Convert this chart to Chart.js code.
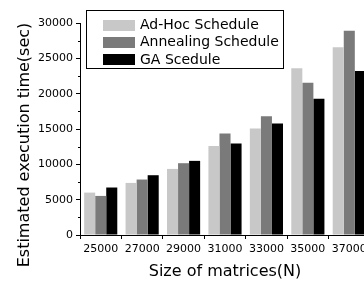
<!DOCTYPE html>
<html><head><meta charset="utf-8">
<script src="https://cdn.jsdelivr.net/npm/chart.js@4.4.1/dist/chart.umd.min.js"></script>
<style>html,body{margin:0;padding:0;background:#fff;overflow:hidden;width:364px;height:281px}canvas{display:block}</style>
</head><body>
<canvas id="c" width="372" height="281" style="width:372px;height:281px"></canvas>
<script>
const categories = ['25000','27000','29000','31000','33000','35000','37000'];
const adHoc = [6000, 7370, 9350, 12610, 15080, 23580, 26560];
const annealing = [5530, 7850, 10160, 14370, 16820, 21540, 28910];
const ga = [6720, 8460, 10490, 12950, 15780, 19270, 23200];
const seriesNames = ['Ad-Hoc Schedule','Annealing Schedule','GA Scedule'];
const colors = ['#c8c8c8','#7a7a7a','#000000'];
const yTitle = 'Estimated execution time(sec)';
const xTitle = 'Size of matrices(N)';

const FONT = "'DejaVu Sans', sans-serif";

const legendBox = {
  id: 'legendBox',
  afterDraw(chart) {
    const ctx = chart.ctx;
    ctx.save();
    ctx.fillStyle = '#fff';
    ctx.fillRect(86.5, 10.5, 197, 58);
    ctx.strokeStyle = '#000';
    ctx.lineWidth = 1;
    ctx.strokeRect(86.5, 10.5, 197, 58);
    const rows = [25, 42.2, 59.7];
    chart.data.datasets.forEach((ds, i) => {
      ctx.fillStyle = ds.backgroundColor;
      ctx.fillRect(103, Math.round(rows[i] - 5.5), 32, 11);
      ctx.fillStyle = '#000';
      ctx.font = '14px ' + FONT;
      ctx.textBaseline = 'middle';
      ctx.textAlign = 'left';
      ctx.fillText(ds.label, 140, rows[i] + 0.5);
    });
    ctx.restore();
  }
};

const extras = {
  id: 'extras',
  afterDraw(chart) {
    const y = chart.scales.y, ctx = chart.ctx;
    const x0 = chart.chartArea.left;
    ctx.save();
    ctx.strokeStyle = '#000';
    ctx.lineWidth = 1;
    for (let v = 2500; v < 30000; v += 5000) {
      const py = Math.round(y.getPixelForValue(v)) + 0.5;
      ctx.beginPath();
      ctx.moveTo(x0 - 2, py);
      ctx.lineTo(x0, py);
      ctx.stroke();
    }
    // y title
    ctx.translate(25, 145);
    ctx.rotate(-Math.PI / 2);
    ctx.fillStyle = '#000';
    ctx.font = '16px ' + FONT;
    ctx.textAlign = 'center';
    ctx.textBaseline = 'middle';
    ctx.fillText(yTitle, 0, 0);
    ctx.restore();
  }
};

new Chart(document.getElementById('c'), {
  type: 'bar',
  data: {
    labels: categories,
    datasets: [
      {label: seriesNames[0], data: adHoc, backgroundColor: colors[0]},
      {label: seriesNames[1], data: annealing, backgroundColor: colors[1]},
      {label: seriesNames[2], data: ga, backgroundColor: colors[2]}
    ]
  },
  options: {
    responsive: false,
    animation: false,
    devicePixelRatio: 1,
    layout: {padding: {top: 23, right: 2, left: 0, bottom: 0}},
    datasets: {bar: {categoryPercentage: 0.8, barPercentage: 1.0, borderWidth: 0}},
    plugins: {legend: {display: false}, tooltip: {enabled: false}},
    scales: {
      x: {
        offset: true,
        grid: {offset: true, drawOnChartArea: false, tickLength: 4, color: '#000', tickColor: '#000'},
        border: {color: '#000', width: 1},
        ticks: {color: '#000', font: {family: FONT, size: 11}, padding: 4, maxRotation: 0, autoSkip: false},
        title: {display: true, text: xTitle, color: '#000', font: {family: FONT, size: 16}, padding: {top: 2, bottom: 0}},
        afterFit(s) { s.height = 46; }
      },
      y: {
        min: 0, max: 30000,
        grid: {drawOnChartArea: false, tickLength: 4, color: '#000', tickColor: '#000'},
        border: {color: '#000', width: 1},
        ticks: {stepSize: 5000, color: '#000', font: {family: FONT, size: 11}, padding: 3,
                callback: v => String(v)},
        title: {display: false},
        afterFit(s) { s.width = 80; }
      }
    }
  },
  plugins: [extras, legendBox]
});
</script>
</body></html>
